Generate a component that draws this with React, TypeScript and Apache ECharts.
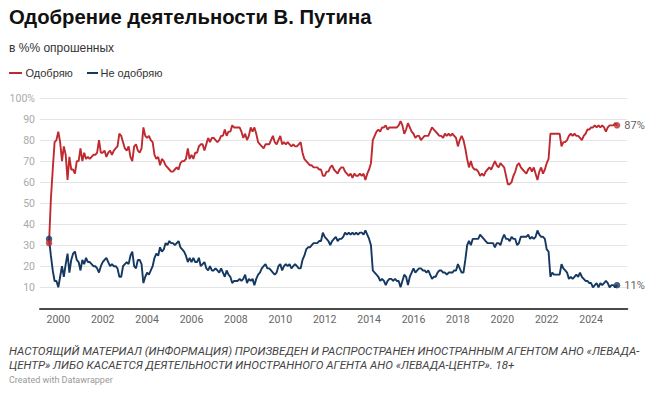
import React, { useEffect, useRef } from "react";
import * as echarts from "echarts";

// ---------- data ----------
const TITLE = "Одобрение деятельности В. Путина";
const SUBTITLE = "в %% опрошенных";
const SERIES_NAMES = ["Одобряю", "Не одобряю"];
const FIRST_YEAR = 1999;
const FIRST_MONTH = 8; // August 1999, monthly observations

// "Одобряю" (approve), monthly from Aug 1999 to Mar 2025
const approve = [
  31, 52, 66, 79, 80, // 1999 (Aug-Dec)
  84, 79, 70, 77, 73, 61, 72, 66, 66, 64, 70, 70, // 2000
  76, 70, 74, 71, 72, 71, 72, 73, 73, 74, 80, 74, // 2001
  74, 75, 72, 74, 75, 73, 75, 76, 77, 83, 82, 79, // 2002
  76, 75, 77, 72, 70, 77, 78, 75, 74, 76, 86, 82, // 2003
  81, 82, 80, 79, 73, 71, 72, 68, 71, 70, 68, 67, // 2004
  66, 65, 65, 66, 67, 66, 69, 70, 70, 71, 76, 71, // 2005
  73, 71, 74, 74, 77, 78, 78, 75, 78, 81, 79, 81, // 2006
  81, 80, 79, 80, 82, 82, 85, 82, 84, 84, 87, 86, // 2007
  86, 86, 86, 84, 81, 83, 80, 82, 86, 84, 86, 83, // 2008
  79, 78, 77, 76, 78, 78, 78, 80, 82, 79, 78, 80, // 2009
  82, 78, 79, 78, 79, 78, 77, 78, 77, 77, 78, 79, // 2010
  74, 71, 70, 69, 68, 68, 67, 67, 67, 66, 66, 63, // 2011
  63, 65, 65, 67, 68, 66, 65, 64, 66, 67, 67, 65, // 2012
  64, 63, 64, 62, 64, 63, 63, 64, 63, 64, 61, 64, // 2013
  66, 69, 80, 82, 84, 85, 84, 86, 86, 87, 85, 86, // 2014
  86, 86, 86, 86, 87, 89, 87, 83, 85, 88, 86, 84, // 2015
  83, 81, 82, 82, 80, 81, 82, 82, 82, 84, 86, 85, // 2016
  84, 83, 82, 82, 81, 83, 82, 83, 82, 83, 82, 81, // 2017
  77, 80, 82, 80, 76, 71, 67, 70, 67, 66, 66, 65, // 2018
  63, 64, 63, 65, 66, 67, 66, 68, 70, 68, 67, 69, // 2019
  68, 67, 63, 59, 59, 60, 63, 65, 68, 69, 67, 66, // 2020
  65, 64, 66, 67, 65, 67, 64, 61, 65, 67, 64, 66, // 2021
  69, 71, 83, 83, 83, 83, 83, 83, 77, 79, 79, 80, // 2022
  82, 83, 82, 83, 82, 82, 81, 80, 82, 83, 85, 85, // 2023
  86, 86, 87, 86, 87, 86, 87, 86, 84, 86, 87, 87, // 2024
  87, 88, 87, // 2025 (Jan-Mar)
];

// "Не одобряю" (disapprove), same months
const disapprove = [
  33, 25, 18, 13, 13, // 1999
  10, 15, 20, 15, 21, 26, 17, 23, 26, 27, 23, 22, // 2000
  18, 23, 21, 24, 22, 22, 21, 20, 20, 19, 17, 20, // 2001
  22, 23, 24, 22, 20, 21, 20, 20, 19, 15, 15, 20, // 2002
  21, 22, 21, 25, 27, 20, 19, 23, 23, 21, 12, 15, // 2003
  17, 16, 18, 20, 24, 26, 25, 29, 27, 28, 31, 30, // 2004
  32, 31, 31, 30, 31, 32, 29, 28, 27, 25, 22, 24, // 2005
  22, 24, 22, 22, 24, 20, 21, 22, 19, 18, 20, 18, // 2006
  18, 19, 18, 17, 19, 17, 15, 18, 16, 15, 12, 13, // 2007
  13, 13, 14, 13, 14, 16, 12, 14, 13, 14, 11, 14, // 2008
  16, 17, 19, 20, 21, 19, 19, 18, 17, 16, 17, 20, // 2009
  21, 18, 20, 21, 20, 21, 19, 20, 21, 20, 19, 19, // 2010
  23, 25, 28, 29, 29, 30, 31, 31, 31, 32, 32, 36, // 2011
  34, 33, 32, 30, 32, 33, 34, 32, 33, 33, 34, 36, // 2012
  35, 36, 35, 36, 35, 36, 35, 36, 36, 35, 37, 35, // 2013
  33, 30, 18, 17, 16, 15, 13, 14, 13, 11, 13, 14, // 2014
  14, 13, 14, 13, 13, 10, 13, 16, 15, 11, 15, 17, // 2015
  19, 17, 18, 19, 19, 18, 18, 17, 18, 16, 14, 15, // 2016
  15, 17, 18, 18, 17, 17, 16, 17, 17, 17, 18, 18, // 2017
  21, 19, 17, 17, 23, 30, 32, 30, 33, 33, 33, 33, // 2018
  35, 34, 33, 32, 31, 31, 31, 31, 29, 31, 31, 30, // 2019
  33, 35, 33, 33, 32, 34, 33, 33, 30, 31, 34, 34, // 2020
  34, 34, 35, 33, 34, 33, 34, 37, 35, 34, 34, 33, // 2021
  28, 27, 15, 17, 16, 16, 16, 16, 21, 19, 18, 17, // 2022
  14, 15, 14, 15, 16, 15, 17, 15, 14, 13, 13, 12, // 2023
  12, 10, 11, 12, 10, 12, 11, 12, 13, 12, 10, 11, // 2024
  11, 10, 11, // 2025
];

const yTicks = [0, 10, 20, 30, 40, 50, 60, 70, 80, 90, 100];
const xTickYears = [2000, 2002, 2004, 2006, 2008, 2010, 2012, 2014, 2016, 2018, 2020, 2022, 2024];

const NOTE_LINES = [
  "НАСТОЯЩИЙ МАТЕРИАЛ (ИНФОРМАЦИЯ) ПРОИЗВЕДЕН И РАСПРОСТРАНЕН ИНОСТРАННЫМ АГЕНТОМ АНО «ЛЕВАДА-",
  "ЦЕНТР» ЛИБО КАСАЕТСЯ ДЕЯТЕЛЬНОСТИ ИНОСТРАННОГО АГЕНТА АНО «ЛЕВАДА-ЦЕНТР». 18+",
];
const CREDIT = "Created with Datawrapper";

// ---------- style ----------
const RED = "#bf2a30";
const BLUE = "#143860";
const FONT = "Roboto, 'Noto Sans', sans-serif";
const HEAD_FONT = "'Liberation Sans', Arial, Helvetica, sans-serif";
const NOTE_FONT = `italic 11.5px ${FONT}`;

function monthToYear(i: number): number {
  return FIRST_YEAR + (FIRST_MONTH - 1 + i) / 12;
}

function text(x: number, y: number, content: string, font: string, fill: string, scaleX = 1) {
  return {
    type: "text",
    x,
    y,
    scaleX,
    silent: true,
    style: {
      text: content,
      font,
      fill,
      textVerticalAlign: "middle",
      verticalAlign: "middle",
    },
  };
}

export default function App() {
  const ref = useRef<HTMLDivElement>(null);

  useEffect(() => {
    document.body.style.margin = "0";
    if (!ref.current) return;
    const chart = echarts.init(ref.current, undefined, { renderer: "svg" });

    const approveData = approve.map((v, i) => [monthToYear(i), v]);
    const disapproveData = disapprove.map((v, i) => [monthToYear(i), v]);
    const last = approve.length - 1;

    const endPoint = (data: number[][], color: string) => [
      { value: data[0], itemStyle: { color } },
      {
        value: data[last],
        itemStyle: { color },
        label: {
          show: true,
          position: "right",
          distance: 4,
          formatter: (p: any) => `${p.value[1]}%`,
          color: "#333",
          fontSize: 11,
          fontFamily: FONT,
        },
      },
    ];

    const option: any = {
      animation: false,
      backgroundColor: "#fff",
      grid: { left: 40, right: 27.7, top: 98, bottom: 86.7 },
      xAxis: {
        type: "value",
        min: 1999.176,
        max: 2025.63,
        splitLine: { show: false },
        axisTick: { show: false },
        axisLine: { show: true, lineStyle: { color: "#4a4a4a", width: 2 } },
        axisLabel: {
          customValues: xTickYears,
          formatter: (v: number) => String(Math.round(v)),
          color: "#666",
          fontSize: 10.5,
          fontFamily: FONT,
          margin: 6,
        },
      },
      yAxis: {
        type: "value",
        min: yTicks[0],
        max: yTicks[yTicks.length - 1],
        interval: 10,
        axisLine: { show: false },
        axisTick: { show: false },
        splitLine: { lineStyle: { color: "#e4e4e4", width: 1 } },
        axisLabel: {
          formatter: (v: number) => (v === 100 ? "100%" : v === 0 ? "" : String(v)),
          color: "#aaa",
          fontSize: 10.5,
          fontFamily: FONT,
          margin: 5,
        },
      },
      series: [
        {
          name: SERIES_NAMES[1],
          type: "line",
          data: disapproveData,
          showSymbol: false,
          lineStyle: { color: BLUE, width: 1.9 },
          itemStyle: { color: BLUE },
          z: 2,
        },
        {
          name: SERIES_NAMES[0],
          type: "line",
          data: approveData,
          showSymbol: false,
          lineStyle: { color: RED, width: 1.9 },
          itemStyle: { color: RED },
          z: 3,
        },
        {
          type: "scatter",
          symbolSize: 6.5,
          data: endPoint(disapproveData, BLUE),
          z: 4,
        },
        {
          type: "scatter",
          symbolSize: 6.5,
          data: endPoint(approveData, RED),
          z: 5,
        },
      ],
      graphic: [
        text(9, 17, TITLE, `bold 20.3px ${HEAD_FONT}`, "#111"),
        text(9, 48, SUBTITLE, `12px ${HEAD_FONT}`, "#333"),
        { type: "line", shape: { x1: 9, y1: 73, x2: 22, y2: 73 }, style: { stroke: RED, lineWidth: 2 } },
        text(25.5, 73, SERIES_NAMES[0], `11px ${HEAD_FONT}`, "#333"),
        { type: "line", shape: { x1: 87, y1: 73, x2: 98, y2: 73 }, style: { stroke: BLUE, lineWidth: 2 } },
        text(100.5, 73, SERIES_NAMES[1], `11px ${HEAD_FONT}`, "#333"),
        text(9, 351, NOTE_LINES[0], NOTE_FONT, "#444"),
        text(9, 364.5, NOTE_LINES[1], NOTE_FONT, "#444"),
        text(9, 380, CREDIT, `9px ${FONT}`, "#999"),
      ],
    };

    chart.setOption(option);
    return () => chart.dispose();
  }, []);

  return <div ref={ref} style={{ width: 655, height: 395 }} />;
}
